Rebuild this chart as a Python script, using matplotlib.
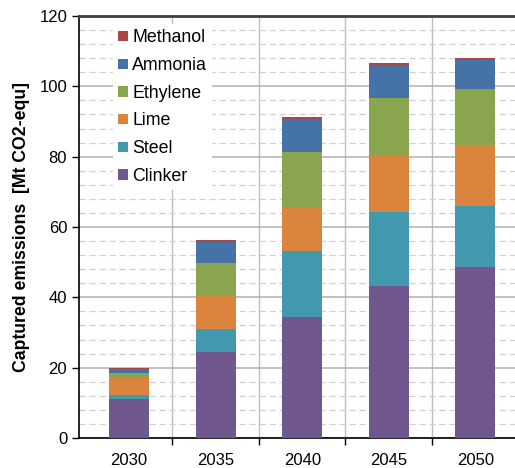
import numpy as np
import matplotlib
matplotlib.use('Agg')
import matplotlib.pyplot as plt
from matplotlib.ticker import MultipleLocator, FixedLocator

plt.rcParams['font.family'] = ['Liberation Sans', 'DejaVu Sans']

years = ['2030', '2035', '2040', '2045', '2050']
clinker = [11.1, 24.5, 34.4, 43.3, 48.7]
steel = [1.2, 6.6, 18.7, 20.9, 17.4]
lime = [4.7, 9.6, 12.7, 16.4, 17.2]
ethylene = [1.4, 9.1, 15.4, 16.1, 15.8]
ammonia = [1.2, 5.9, 9.5, 9.3, 8.4]
methanol = [0.4, 0.5, 0.6, 0.6, 0.5]

series = [('Clinker', clinker, '#70588E'),
          ('Steel', steel, '#4198AF'),
          ('Lime', lime, '#DB843D'),
          ('Ethylene', ethylene, '#89A54E'),
          ('Ammonia', ammonia, '#4572A7'),
          ('Methanol', methanol, '#AA4643')]

fig = plt.figure(figsize=(5.15, 4.68), dpi=100)
ax = fig.add_axes([79/515, 30/468, 436/515, 422/468])

x = np.arange(len(years))
bottom = np.zeros(len(years))
handles = []
for name, vals, col in series:
    b = ax.bar(x, vals, 0.46, bottom=bottom, color=col, label=name, zorder=3)
    handles.append(b)
    bottom += np.array(vals)

ax.set_xlim(-0.58, 4.46)
ax.set_ylim(0, 120)
ax.set_axisbelow(True)

ax.yaxis.set_major_locator(MultipleLocator(20))
ax.yaxis.set_minor_locator(MultipleLocator(4))
ax.grid(which='major', axis='y', color='#B2B2B2', lw=1.1)
ax.grid(which='minor', axis='y', color='#D0D0D0', lw=0.9, linestyle=(0, (5, 3)))
ax.tick_params(axis='y', which='major', length=5, direction='out', labelsize=12, width=1)
ax.tick_params(axis='y', which='minor', length=0)

ax.set_xticks(x)
ax.set_xticklabels(years)
ax.xaxis.set_minor_locator(FixedLocator(x[:-1] + 0.5))
ax.grid(which='minor', axis='x', color='#BDBDBD', lw=1.0)
ax.tick_params(axis='x', which='major', length=0, labelsize=12, pad=11)
ax.tick_params(axis='x', which='minor', length=5, direction='out', width=1)

ax.spines['right'].set_visible(False)
ax.spines['top'].set_color('#404040')
ax.spines['top'].set_linewidth(2)
ax.spines['left'].set_linewidth(1.2)
ax.spines['bottom'].set_linewidth(1.2)

ax.set_ylabel('Captured emissions  [Mt CO2-equ]', fontsize=12.7, fontweight='bold', labelpad=7)

leg = ax.legend(handles[::-1], [s[0] for s in series][::-1], loc='upper left',
                bbox_to_anchor=(113/515, (468-24)/468), bbox_transform=fig.transFigure,
                fontsize=12.8, frameon=True, facecolor='white', edgecolor='none',
                framealpha=1, fancybox=False, handlelength=0.52, handleheight=0.52,
                handletextpad=0.25, labelspacing=0.6, borderpad=0.3, borderaxespad=0)
leg.set_zorder(5)

fig.savefig('out.png', dpi=100)
